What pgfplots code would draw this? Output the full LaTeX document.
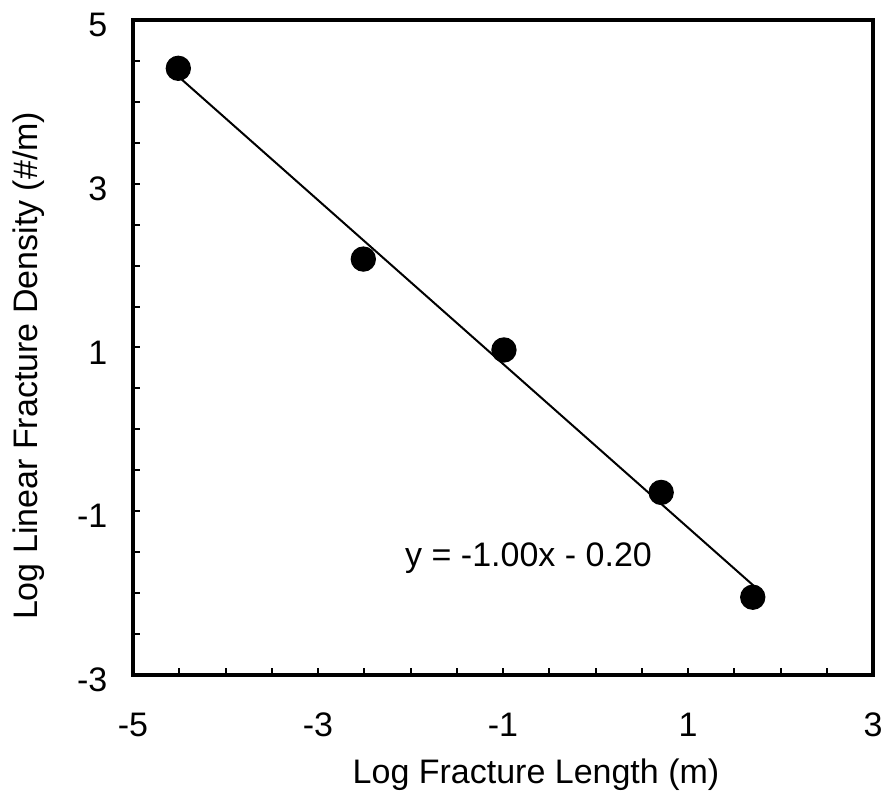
\documentclass[border=0pt]{standalone}
\usepackage{fontspec}
\setmainfont{Liberation Sans}
\usepackage{pgfplots}
\pgfplotsset{compat=1.18}

\begin{document}
\begin{tikzpicture}
\begin{axis}[
  name=ax,
  scale only axis,
  width=222pt, height=196.5pt,
  xmin=-5, xmax=3, ymin=-3, ymax=5,
  axis line style={line width=1.1pt},
  font=\fontsize{10.2pt}{12pt}\selectfont,
  xtick={-5,-3,-1,1,3},
  ytick={-3,-1,1,3,5},
  xticklabels={-5,-3,-1,1,3},
  yticklabels={-3,-1,1,3,5},
  minor x tick num=3,
  minor y tick num=3,
  tick pos=left,
  tick align=inside,
  major tick length=2.2pt,
  minor tick length=2.2pt,
  tick style={black, line width=0.6pt},
  tick label style={inner sep=0pt},
  xticklabel style={yshift=-11.1pt},
  yticklabel style={xshift=-7.5pt, yshift=-1.5pt},
  label style={inner sep=0pt},
  xlabel={Log Fracture Length (m)},
  ylabel={Log Linear Fracture Density (\#/m)},
  xlabel style={at={(axis description cs:0.5446,-0.165)}, anchor=base},
  ylabel style={at={(axis description cs:-0.1284,0.472)}, anchor=base},
  clip=false,
]
% least-squares fit line
\addplot[black, line width=0.6pt] coordinates {(-4.51,4.31) (1.71,-1.91)};
% measured densities
\addplot[only marks, mark=*, mark size=3.6pt, black] coordinates {
  (-4.51,4.41)
  (-2.51,2.08)
  (-0.99,0.97)
  (0.71,-0.77)
  (1.70,-2.05)
};
\node[anchor=base, inner sep=0pt] at (axis cs:-0.724,-1.679) {y = -1.00x - 0.20};
\end{axis}
\path ([shift={(-39.9pt,-37.2pt)}]ax.south west) rectangle ([shift={(4.2pt,6pt)}]ax.north east);
\end{tikzpicture}
\end{document}
